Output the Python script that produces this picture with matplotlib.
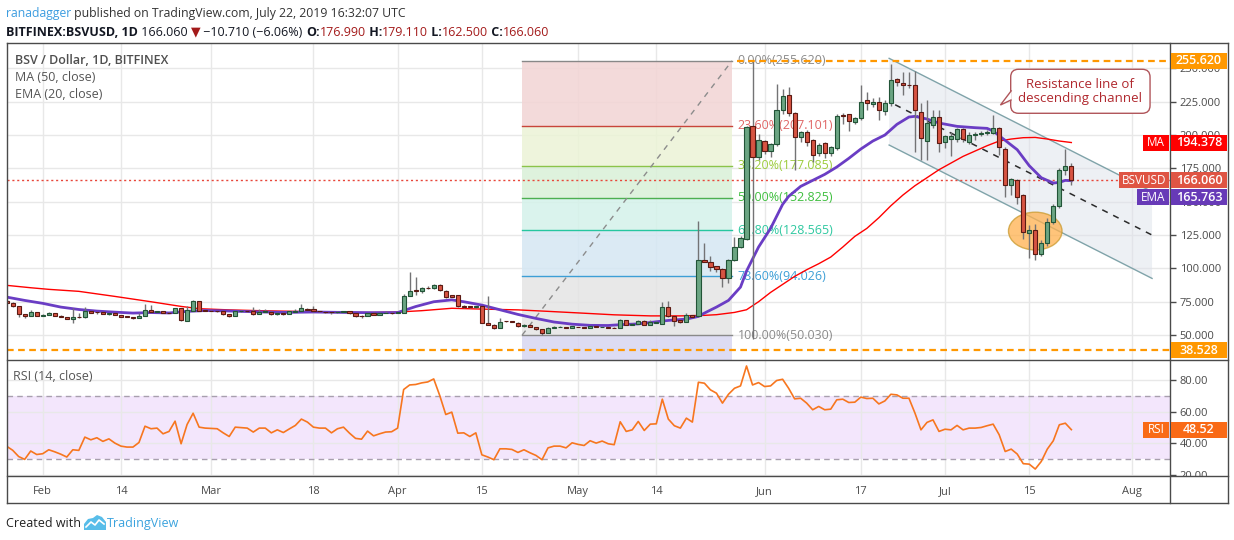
import matplotlib
matplotlib.use("Agg")
import matplotlib.pyplot as plt
import matplotlib.dates as mdates
from matplotlib.patches import Rectangle, Polygon, Ellipse, FancyBboxPatch
from matplotlib.lines import Line2D
from matplotlib.transforms import Bbox
import numpy as np
import pandas as pd

plt.rcParams["font.family"] = ["Open Sans", "DejaVu Sans"]

W, H = 1234, 540

# BITFINEX:BSVUSD daily candles, 2019-01-26 .. 2019-07-22
dates = pd.date_range("2019-01-26", "2019-07-22", freq="D")
opens = [75.5, 74.2, 71.6, 65.7, 64.3, 67.2,
         64.4, 65.0, 66.4, 64.6, 63.6, 62.2, 63.6, 63.3, 67.9, 67.1,
         67.4, 65.9, 66.6, 65.2, 63.8, 63.6, 62.7, 64.4, 68.7, 67.6,
         68.1, 66.8, 66.4, 70.1, 60.9, 68.4, 75.6, 68.4, 68.2, 68.0,
         67.9, 65.7, 64.2, 67.9, 68.2, 67.9, 65.7, 67.4, 67.4, 65.7,
         66.6, 65.7, 67.2, 67.9, 69.9, 69.9, 67.9, 67.4, 67.2, 67.1,
         67.4, 67.9, 66.4, 64.4, 64.2, 66.7, 65.2, 66.5, 66.6, 66.4,
         66.9, 79.4, 83.6, 82.8, 85.3, 85.1, 87.8, 83.3, 79.8, 79.8,
         71.9, 71.6, 70.9, 71.6, 59.0, 57.7, 55.2, 60.4, 60.2, 59.2,
         56.7, 57.7, 56.0, 54.2, 51.7, 55.5, 56.0, 56.2, 55.5, 56.2,
         56.0, 55.2, 56.7, 56.0, 56.0, 55.5, 55.2, 61.2, 57.7, 58.5,
         60.4, 57.5, 59.2, 58.4, 71.4, 64.2, 61.4, 59.7, 64.9, 64.0,
         106.2, 105.0, 101.5, 99.5, 92.5, 106.2, 116.0, 121.7, 206.7, 183.2,
         195.2, 188.2, 193.0, 218.7, 230.0, 216.2, 198.2, 202.0, 196.2, 186.2,
         193.7, 186.2, 190.0, 215.0, 215.5, 209.7, 212.5, 226.0, 223.5, 225.0,
         218.2, 224.2, 241.7, 239.0, 237.8, 237.5, 217.5, 195.5, 207.5, 213.7,
         195.0, 196.7, 196.7, 204.2, 194.7, 199.7, 200.7, 201.2, 201.7, 205.0,
         189.2, 162.5, 166.2, 155.0, 126.7, 128.7, 110.7, 119.2, 135.0, 146.7,
         173.7, 176.99]
highs = [76.2, 74.6, 72.0, 66.1, 68.9, 67.6,
         65.5, 67.0, 66.6, 64.8, 63.8, 70.0, 66.4, 70.8, 68.2, 67.4,
         67.6, 66.7, 66.8, 65.4, 64.0, 63.8, 66.4, 73.4, 72.6, 68.3,
         68.4, 67.0, 70.5, 70.4, 71.6, 76.6, 75.8, 68.8, 68.6, 68.4,
         68.1, 65.9, 68.3, 68.5, 68.4, 70.9, 69.6, 69.6, 67.8, 67.2,
         67.0, 68.2, 69.9, 73.6, 70.3, 71.6, 68.2, 67.6, 67.4, 67.8,
         68.2, 68.1, 66.6, 65.0, 66.7, 67.2, 67.0, 68.2, 67.0, 67.6,
         80.5, 97.5, 93.3, 86.0, 87.1, 88.5, 88.0, 83.6, 80.3, 80.2,
         72.2, 72.0, 72.0, 72.0, 79.4, 58.0, 62.7, 60.7, 60.5, 59.6,
         58.0, 58.0, 56.3, 54.5, 56.0, 56.5, 56.5, 56.4, 56.8, 56.4,
         56.2, 56.8, 56.9, 56.4, 56.2, 55.7, 62.0, 61.5, 59.2, 61.4,
         61.0, 61.4, 60.4, 74.6, 75.8, 64.5, 61.6, 66.7, 65.2, 135.5,
         119.0, 109.0, 102.0, 100.0, 107.0, 123.7, 124.0, 207.0, 255.62, 200.7,
         196.5, 194.0, 238.2, 234.7, 235.7, 217.0, 203.0, 203.5, 197.0, 194.0,
         195.0, 192.0, 215.5, 216.5, 216.0, 213.5, 237.5, 232.5, 228.0, 228.7,
         226.0, 253.0, 243.0, 247.0, 247.5, 248.0, 223.7, 226.0, 219.0, 219.0,
         200.0, 202.5, 205.0, 205.5, 202.0, 202.0, 203.0, 204.0, 215.0, 206.0,
         191.2, 168.0, 167.0, 156.0, 132.5, 133.5, 121.0, 137.5, 148.0, 175.0,
         189.2, 179.11]
lows = [74.0, 71.0, 63.2, 63.0, 64.0, 64.0,
        64.0, 64.8, 64.2, 63.2, 61.8, 59.0, 63.0, 63.0, 66.2, 65.5,
        65.6, 65.2, 65.0, 63.4, 63.3, 62.4, 62.5, 64.2, 67.2, 67.3,
        66.4, 66.2, 66.2, 60.9, 60.5, 68.2, 68.0, 67.8, 67.8, 67.5,
        65.4, 63.9, 64.0, 67.6, 67.6, 65.4, 65.5, 67.1, 65.4, 65.4,
        65.4, 65.5, 67.0, 67.7, 68.6, 67.6, 67.3, 66.9, 65.7, 66.9,
        67.2, 66.1, 63.9, 62.8, 64.0, 64.9, 65.0, 66.2, 66.1, 66.2,
        66.6, 79.0, 80.0, 81.5, 84.6, 84.8, 83.3, 77.6, 78.5, 70.8,
        70.5, 70.5, 70.5, 58.7, 57.2, 54.8, 55.0, 59.9, 59.6, 56.4,
        56.4, 55.7, 53.9, 50.1, 51.4, 55.2, 55.7, 55.2, 55.3, 55.8,
        55.0, 55.0, 55.8, 55.8, 55.0, 55.0, 55.0, 57.2, 57.4, 58.2,
        57.2, 57.3, 59.0, 58.2, 63.9, 56.5, 59.4, 59.5, 63.4, 63.7,
        104.6, 98.0, 97.0, 86.3, 89.3, 105.5, 115.0, 121.0, 47.0, 181.2,
        186.0, 183.7, 192.0, 216.0, 214.0, 173.7, 195.0, 192.0, 180.0, 184.0,
        183.0, 184.5, 188.5, 208.0, 203.0, 208.5, 211.0, 218.7, 221.0, 211.0,
        215.0, 222.0, 237.0, 230.0, 235.0, 187.5, 181.0, 181.0, 205.0, 187.5,
        190.0, 184.5, 195.0, 195.0, 193.0, 196.5, 199.0, 200.0, 200.5, 185.0,
        153.7, 155.0, 148.0, 122.0, 107.5, 106.5, 109.2, 117.0, 133.0, 145.0,
        170.0, 162.5]
closes = [74.3, 71.6, 65.7, 64.3, 67.2, 64.4,
          65.0, 66.4, 64.6, 63.6, 62.2, 63.4, 63.3, 67.9, 66.6, 67.0,
          65.9, 66.4, 65.2, 63.7, 63.6, 62.7, 64.4, 68.7, 67.5, 68.0,
          66.7, 66.4, 70.1, 61.4, 68.7, 75.6, 68.4, 68.2, 68.0, 67.9,
          65.7, 64.2, 67.9, 68.2, 67.9, 65.7, 67.4, 67.9, 65.7, 66.6,
          65.7, 67.9, 68.4, 70.1, 68.9, 67.9, 67.7, 67.2, 67.1, 67.4,
          67.9, 66.4, 64.2, 64.2, 66.4, 65.2, 66.7, 66.8, 66.4, 67.2,
          79.4, 82.8, 83.3, 85.3, 85.1, 87.8, 83.8, 78.4, 78.9, 71.9,
          71.0, 70.9, 71.6, 59.0, 57.7, 55.2, 60.0, 60.2, 59.9, 56.7,
          57.5, 56.0, 54.2, 51.7, 55.5, 56.2, 56.2, 55.5, 56.5, 56.0,
          55.2, 56.5, 56.0, 56.2, 55.2, 55.2, 61.4, 57.5, 58.5, 60.4,
          57.5, 59.9, 59.9, 71.4, 64.2, 60.9, 59.7, 64.9, 63.7, 106.2,
          105.0, 101.2, 99.5, 92.5, 106.2, 116.2, 122.5, 206.2, 183.2, 196.2,
          188.2, 193.0, 218.7, 229.2, 216.2, 198.2, 202.0, 194.5, 185.0, 192.5,
          186.7, 190.7, 214.2, 214.0, 210.7, 212.5, 225.0, 223.7, 224.5, 218.7,
          224.0, 241.0, 240.0, 237.5, 237.3, 218.7, 197.5, 209.2, 213.7, 194.2,
          199.2, 199.2, 204.2, 196.7, 199.7, 201.0, 201.5, 202.5, 205.0, 191.2,
          162.5, 166.7, 153.7, 127.5, 128.7, 110.7, 119.2, 135.0, 146.7, 173.7,
          176.77, 166.06]
rsi = [38.0, 35.5, 31.5, 29.7, 35.0, 32.8,
       33.3, 35.8, 34.5, 33.0, 31.2, 35.8, 35.4, 43.8, 42.1, 43.4,
       41.1, 42.7, 40.0, 38.1, 37.5, 37.5, 40.4, 50.7, 49.1, 49.5,
       45.9, 47.4, 53.9, 39.6, 51.8, 58.9, 50.1, 49.5, 49.3, 49.1,
       46.5, 44.2, 50.1, 49.8, 49.5, 47.0, 49.5, 49.5, 46.5, 48.4,
       46.7, 49.0, 51.2, 55.2, 53.3, 50.1, 49.5, 49.5, 46.5, 49.1,
       50.1, 46.3, 43.0, 42.5, 47.6, 44.6, 45.9, 47.0, 47.2, 49.5,
       73.9, 76.8, 77.1, 78.1, 78.7, 80.6, 70.1, 58.1, 59.6, 46.3,
       46.5, 44.2, 46.5, 32.6, 31.2, 29.5, 36.4, 36.4, 36.0, 34.1,
       35.8, 33.9, 32.2, 29.5, 37.0, 38.1, 38.1, 37.0, 40.2, 39.2,
       38.5, 41.5, 40.0, 41.3, 39.6, 39.0, 53.5, 47.4, 48.4, 53.7,
       48.0, 52.0, 52.2, 67.8, 55.2, 51.0, 49.5, 55.8, 53.3, 78.5,
       77.9, 73.7, 71.6, 65.3, 70.9, 74.7, 76.2, 88.8, 76.8, 78.3,
       75.8, 76.2, 79.6, 80.4, 74.7, 68.0, 68.4, 65.3, 61.1, 63.2,
       61.1, 61.5, 67.4, 67.8, 65.7, 65.9, 69.1, 68.2, 68.4, 64.8,
       66.7, 70.9, 70.5, 68.4, 68.4, 59.0, 48.4, 53.1, 54.7, 47.4,
       48.8, 48.4, 51.2, 48.4, 49.5, 49.5, 49.9, 51.0, 52.0, 45.3,
       34.7, 36.2, 33.1, 27.0, 26.7, 23.6, 28.4, 36.2, 41.5, 51.6,
       52.6, 48.52]

# MA(50) and EMA(20)
ma_dates = ["01-26", "01-30", "02-02", "02-07", "02-13", "02-19", "02-24", "02-27",
            "03-04", "03-10", "03-16", "03-21", "03-27", "04-01", "04-05", "04-10",
            "04-15", "04-21", "04-26", "05-02", "05-07", "05-13", "05-18", "05-22",
            "05-24", "05-27", "05-29", "05-31", "06-02", "06-04", "06-06", "06-08",
            "06-10", "06-12", "06-14", "06-16", "06-18", "06-20", "06-22", "06-24",
            "06-26", "06-28", "06-30", "07-02", "07-04", "07-06", "07-08", "07-10",
            "07-12", "07-14", "07-16", "07-18", "07-20", "07-22"]
ma50 = [87.3, 85.5, 84.3, 82.8, 79.0, 75.0, 71.5, 69.8,
        68.9, 68.2, 67.7, 67.2, 66.9, 67.3, 68.3, 70.1,
        69.5, 68.9, 67.8, 66.4, 65.2, 64.4, 64.4, 64.8,
        65.3, 67.0, 69.0, 75.0, 82.0, 88.0, 94.0, 99.0,
        103.5, 108.5, 116.0, 124.0, 130.0, 138.0, 147.0, 155.0,
        162.0, 168.0, 174.0, 179.0, 184.0, 188.0, 192.0, 195.5,
        197.0, 198.0, 198.2, 197.0, 195.5, 194.378]
ema_dates = ["01-26", "01-29", "02-01", "02-04", "02-07", "02-10", "02-13", "02-16",
             "02-19", "02-22", "02-25", "02-28", "03-03", "03-08", "03-13", "03-18",
             "03-23", "03-28", "04-01", "04-04", "04-07", "04-10", "04-12", "04-15",
             "04-18", "04-21", "04-24", "04-27", "04-30", "05-03", "05-06", "05-08",
             "05-11", "05-14", "05-16", "05-19", "05-21", "05-22", "05-24", "05-26",
             "05-28", "05-29", "05-30", "05-31", "06-01", "06-02", "06-03", "06-04",
             "06-05", "06-07", "06-09", "06-11", "06-13", "06-15", "06-17", "06-19",
             "06-21", "06-23", "06-25", "06-26", "06-28", "06-30", "07-03", "07-06",
             "07-08", "07-09", "07-11", "07-13", "07-15", "07-17", "07-19", "07-20",
             "07-21", "07-22"]
ema20 = [78.5, 76.0, 73.8, 71.0, 69.2, 68.0, 67.2, 66.5,
         66.9, 66.6, 67.8, 68.4, 68.2, 67.5, 67.0, 67.3,
         67.0, 66.8, 66.9, 71.4, 75.0, 76.4, 75.0, 72.5,
         69.0, 65.5, 62.5, 59.8, 58.2, 57.3, 57.2, 57.8,
         58.4, 60.0, 61.0, 62.0, 64.0, 66.5, 71.0, 76.0,
         86.0, 98.0, 107.0, 116.0, 123.0, 130.0, 139.0, 148.0,
         154.0, 161.5, 166.0, 170.5, 176.0, 182.5, 189.5, 195.5,
         200.0, 208.0, 213.5, 214.0, 212.0, 209.0, 206.5, 205.5,
         205.0, 203.0, 196.0, 189.0, 177.0, 168.0, 164.0, 164.5,
         166.0, 165.763]

tick_dates = ["2019-02-01", "2019-02-14", "2019-03-01", "2019-03-18", "2019-04-01",
              "2019-04-15", "2019-05-01", "2019-05-14", "2019-06-01", "2019-06-17",
              "2019-07-01", "2019-07-15", "2019-08-01"]
tick_labels = ["Feb", "14", "Mar", "18", "Apr", "15", "May", "14", "Jun", "17",
               "Jul", "15", "Aug"]

# drawings on the chart
fib_pcts = [0.0, 23.6, 38.2, 50.0, 61.8, 78.6, 100.0]
fib_levels = [255.620, 207.101, 177.085, 152.825, 128.565, 94.026, 50.030]
fib_fill = ["#f2d4d4", "#ebf3d6", "#d9f0d8", "#d4f2ea", "#d5e7f3", "#e4e4e4", "#d8d6f2"]
fib_line = ["#888888", "#c8453a", "#8bc34a", "#4caf50", "#26c6a0", "#3d9fd6", "#8a8a8a"]
fib_text = ["#8a8a8a", "#e06666", "#9ccc3c", "#3fbf3f", "#2ec8a0", "#3d9fd6", "#8a8a8a"]
fib_t0, fib_t1 = "2019-04-21 17:00", "2019-05-26 14:00"
top_ray_t0 = "2019-05-27 12:00"
top_level, support_level = 255.620, 38.528
ch_t0, ch_t1 = "2019-06-21 17:00", "2019-08-04 10:00"
ch_upper = [257.5, 157.5]
ch_lower = [192.5, 92.5]
circle_t, circle_p = "2019-07-16", 128.0
callout_t0, callout_t1 = "2019-07-11 22:00", "2019-08-04 02:00"
callout_p0, callout_p1 = 216.3, 249.3
callout_tip = ("2019-07-10 05:00", 222.5)

UP, DOWN = "#6ba583", "#d75442"
UP_EDGE, DOWN_EDGE = "#225437", "#5b1a13"
GRID = "#e8e8e8"
FRAME = "#4a4a4a"
AXTXT = "#4a4a4a"


def dn(s):
    return mdates.date2num(pd.Timestamp(s))


def fx(x):
    return x / W


def fy(y):
    return 1 - y / H


fig = plt.figure(figsize=(W / 100, H / 100), dpi=100)
ax_p = fig.add_axes([fx(7), fy(359.5), (1170 - 7) / W, (359.5 - 43) / H])
ax_r = fig.add_axes([fx(7), fy(476), (1170 - 7) / W, (476 - 359.5) / H], sharex=ax_p)

day0 = dn("2019-02-01")
x = mdates.date2num(dates)
o, h, l, c = map(np.array, (opens, highs, lows, closes))

for ax in (ax_p, ax_r):
    ax.set_facecolor("white")
    for s in ax.spines.values():
        s.set_visible(False)
    ax.set_axisbelow(True)
    ax.grid(True, color=GRID, lw=1)
    ax.yaxis.tick_right()
    ax.tick_params(axis="y", direction="out", length=4, width=1, color=FRAME,
                   labelsize=8, labelcolor=AXTXT, pad=3)
    ax.tick_params(axis="x", length=0)

ax_p.set_xlim(day0 - 5.94, day0 + 187.4)
ax_p.set_ylim(31.7, 269.0)
ax_p.set_yticks(np.arange(50, 251, 25))
ax_p.set_yticklabels([f"{v:.3f}" for v in np.arange(50, 251, 25)])
ax_p.set_xticks([dn(d) for d in tick_dates])
ax_p.tick_params(labelbottom=False)

# fibonacci retracement
f0, f1 = dn(fib_t0), dn(fib_t1)
zones = fib_levels + [-40.0]
for i in range(len(fib_levels)):
    ax_p.fill_between([f0, f1], zones[i + 1], zones[i], color=fib_fill[i], alpha=0.85,
                      lw=0, zorder=1)
for lvl, pct, lc, tc in zip(fib_levels, fib_pcts, fib_line, fib_text):
    ax_p.plot([f0, f1], [lvl, lvl], color=lc, lw=1, zorder=1.5)
    ax_p.annotate(f"{pct:.2f}%({lvl:.3f})", (f1, lvl), xytext=(4, 0),
                  textcoords="offset points", ha="left", va="center", color=tc,
                  fontsize=9, zorder=2)
ax_p.plot([f0, f1], [fib_levels[-1], fib_levels[0]], color="#8c8c8c", lw=1,
          dashes=(4, 4), zorder=1.6)

# descending channel
c0, c1 = dn(ch_t0), dn(ch_t1)
ax_p.add_patch(Polygon([(c0, ch_upper[0]), (c1, ch_upper[1]), (c1, ch_lower[1]),
                        (c0, ch_lower[0])], closed=True, fc="#dde2ea", alpha=0.5,
                       lw=0, zorder=1.2))
ax_p.plot([c0, c1], ch_upper, color="#7fa3a9", lw=1, zorder=2)
ax_p.plot([c0, c1], ch_lower, color="#7fa3a9", lw=1, zorder=2)
ax_p.plot([c0 + 1, c1], [(ch_upper[0] + ch_lower[0]) / 2 - 2.3, (ch_upper[1] + ch_lower[1]) / 2],
          color="#2b2b2b", lw=1.1, dashes=(4, 4), zorder=2)

# horizontal levels
ax_p.plot([dn(top_ray_t0), day0 + 187.4], [top_level] * 2, color="#ff9800", lw=1.6,
          dashes=(3, 2), zorder=6)
ax_p.axhline(support_level, color="#ff9800", lw=1.6, dashes=(3, 2), zorder=6)
ax_p.axhline(closes[-1], color="#e8473a", lw=1, dashes=(1.5, 2), zorder=2.5)

# highlight of the July low
ax_p.add_patch(Ellipse((dn(circle_t), circle_p), 8.9, 28.3, fc="#ffb14e", alpha=0.75,
                       ec="#c99a2e", lw=1, zorder=2.2))

# moving averages
ax_p.plot([dn("2019-" + d) for d in ma_dates], ma50, color="#ff0000", lw=1, zorder=3)
ax_p.plot([dn("2019-" + d) for d in ema_dates], ema20, color="#6a3dc4", lw=2, zorder=3.1)

# candles
up = c >= o
bottom = np.minimum(o, c)
height = np.maximum(np.abs(c - o), 0.4)
ax_p.vlines(x, l, h, color="#737375", lw=1, zorder=4)
ax_p.bar(x[up], height[up], 0.7, bottom=bottom[up], color=UP, edgecolor=UP_EDGE,
         lw=0.8, zorder=5)
ax_p.bar(x[~up], height[~up], 0.7, bottom=bottom[~up], color=DOWN, edgecolor=DOWN_EDGE,
         lw=0.8, zorder=5)

# callout
b0, b1 = dn(callout_t0), dn(callout_t1)
ax_p.add_patch(FancyBboxPatch((b0, callout_p0), b1 - b0, callout_p1 - callout_p0,
                              boxstyle="round,pad=0,rounding_size=1.3",
                              mutation_aspect=4.5, fc="white", ec="#b0555a", lw=1,
                              zorder=7))
tip = (dn(callout_tip[0]), callout_tip[1])
ax_p.add_patch(Polygon([(b0 + 0.15, 233.5), tip, (b0 + 0.15, 226.5)], closed=False,
                       fc="white", ec="#b0555a", lw=1, zorder=7.1))
ax_p.text((b0 + b1) / 2, (callout_p0 + callout_p1) / 2,
          "Resistance line of\ndescending channel", ha="center", va="center",
          color="#b0282e", fontsize=9.5, linespacing=1.05, zorder=8)

# RSI panel
ax_r.set_ylim(19.2, 92.9)
ax_r.set_yticks([20, 40, 60, 80])
ax_r.set_yticklabels(["20.00", "40.00", "60.00", "80.00"])
ax_r.axhspan(30, 70, color="#f3e6fc", lw=0, zorder=0.5)
ax_r.axhline(30, color="#a89fae", lw=1, dashes=(4, 3), zorder=1)
ax_r.axhline(70, color="#a89fae", lw=1, dashes=(4, 3), zorder=1)
ax_r.plot(x, rsi, color="#f7761f", lw=1.2, zorder=3)
ax_r.set_xticks([dn(d) for d in tick_dates])
ax_r.set_xticklabels(tick_labels)
ax_r.tick_params(axis="x", labelsize=8, labelcolor=AXTXT, pad=7)
clip = Bbox.from_extents(1100, H - 476, 1234, H - 359)
for lab in ax_r.get_yticklabels():
    lab.set_clip_box(clip)
    lab.set_clip_on(True)

# frame
for xs, ys in [((7, 1228), (43, 43)), ((7, 1228), (359.5, 359.5)), ((7, 1228), (476, 476)),
               ((7, 1228), (503, 503)), ((7, 7), (43, 503)), ((1228, 1228), (43, 503)),
               ((1170, 1170), (43, 503))]:
    fig.add_artist(Line2D([fx(v) for v in xs], [fy(v) for v in ys], color=FRAME, lw=1,
                          transform=fig.transFigure, zorder=4))


# price tags on the right axis
def tag(ax, value, vtext, color, label=None, lab_x0=None, dy=0):
    y = H - ax.transData.transform((ax.get_xlim()[0], value))[1] + dy
    fig.add_artist(Rectangle((fx(1171), fy(y + 8)), 56 / W, 16 / H, transform=fig.transFigure,
                             fc=color, ec="none", zorder=5))
    fig.text(fx(1199), fy(y), vtext, color="white", ha="center", va="center",
             fontsize=9, fontweight="semibold", zorder=6)
    if label:
        fig.add_artist(Rectangle((fx(lab_x0), fy(y + 8)), (1169 - lab_x0) / W, 16 / H,
                                 transform=fig.transFigure, fc=color, ec="none", zorder=5))
        fig.text(fx((lab_x0 + 1169) / 2), fy(y), label, color="white", ha="center",
                 va="center", fontsize=8.5, zorder=6)


tag(ax_p, top_level, f"{top_level:.3f}", "#ff9800")
tag(ax_p, ma50[-1], f"{ma50[-1]:.3f}", "#ff0000", "MA", 1143)
tag(ax_p, closes[-1], f"{closes[-1]:.3f}", "#df5443", "BSVUSD", 1119)
tag(ax_p, closes[-1], f"{ema20[-1]:.3f}", "#673ab7", "EMA", 1137, dy=17)
tag(ax_p, support_level, f"{support_level:.3f}", "#ff9800")
tag(ax_r, rsi[-1], f"{rsi[-1]:.2f}", "#f96a16", "RSI", 1143)

# legends inside panes
fig.text(fx(15), fy(60), "BSV / Dollar, 1D, BITFINEX", color="#4f4f4f", fontsize=9,
         fontweight="semibold", va="center")
fig.text(fx(15), fy(77.5), "MA (50, close)", color="#555555", fontsize=9, va="center")
fig.text(fx(15), fy(94.5), "EMA (20, close)", color="#555555", fontsize=9, va="center")
fig.text(fx(13), fy(377), "RSI (14, close)", color="#555555", fontsize=9, va="center")

# header and footer
renderer = fig.canvas.get_renderer()


def seq_text(x0, y, parts, size):
    for s, color, weight in parts:
        t = fig.text(fx(x0), fy(y), s, color=color, fontsize=size, fontweight=weight,
                     ha="left", va="baseline", family=["Open Sans", "DejaVu Sans"])
        x0 += t.get_window_extent(renderer).width


seq_text(6, 17.5, [("ranadagger", "#3d9de0", "normal"),
                   (" published on TradingView.com, July 22, 2019 16:32:07 UTC", "#333333", "normal")],
         8.8)
RED = "#a31a1a"
seq_text(6, 35.5, [("BITFINEX:BSVUSD, 1D", "#131722", "bold"), (" 166.060 ", "#131722", "normal"),
                   ("\u25bc", RED, "normal"), (" \u221210.710 (\u22126.06%) ", "#131722", "normal"),
                   ("O:", "#131722", "bold"), ("176.990", RED, "normal"),
                   (" H:", "#131722", "bold"), ("179.110", RED, "normal"),
                   (" L:", "#131722", "bold"), ("162.500", RED, "normal"),
                   (" C:", "#131722", "bold"), ("166.060", RED, "normal")], 9)

fig.text(fx(6), fy(527), "Created with", color="#222222", fontsize=9, va="baseline")
fig.add_artist(Polygon([(fx(84), fy(530)), (fx(84), fy(524)), (fx(88), fy(519)),
                        (fx(93), fy(518)), (fx(97), fy(515)), (fx(102), fy(517)),
                        (fx(106), fy(522)), (fx(106), fy(530))], closed=True,
                       transform=fig.transFigure, fc="#58bde9", ec="none"))
fig.add_artist(Line2D([fx(86), fx(91), fx(95), fx(99), fx(104)],
                      [fy(527), fy(522), fy(525), fy(520), fy(524)], color="white", lw=1.2,
                      transform=fig.transFigure))
fig.text(fx(107), fy(527), "TradingView", color="#3ba3de", fontsize=9, va="baseline")

fig.savefig("out.png", dpi=100)
